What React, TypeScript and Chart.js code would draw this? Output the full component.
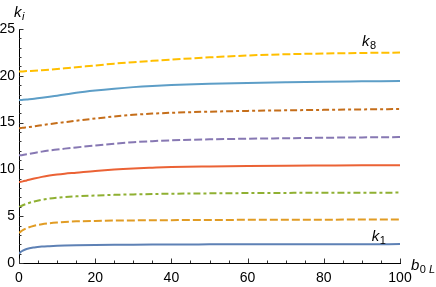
import { useEffect, useRef } from "react";
import { Chart, registerables } from "chart.js";

Chart.register(...registerables);

const xValues = [0, 0.5, 1, 2, 4, 6, 8, 10, 12, 15, 20, 25, 30, 35, 40, 50, 60, 70, 80, 90, 100];
const k1 = [1.0, 1.2, 1.33, 1.5, 1.66, 1.75, 1.8, 1.84, 1.87, 1.9, 1.93, 1.95, 1.96, 1.97, 1.98, 1.99, 2.0, 2.0, 2.01, 2.01, 2.02];
const k2 = [3.2, 3.38, 3.52, 3.72, 3.98, 4.14, 4.25, 4.33, 4.39, 4.45, 4.5, 4.53, 4.55, 4.57, 4.58, 4.6, 4.61, 4.62, 4.63, 4.64, 4.65];
const k3 = [5.95, 6.07, 6.17, 6.33, 6.58, 6.76, 6.88, 6.97, 7.04, 7.12, 7.21, 7.28, 7.33, 7.37, 7.4, 7.44, 7.47, 7.49, 7.5, 7.51, 7.52];
const k4 = [8.65, 8.68, 8.72, 8.82, 9.02, 9.2, 9.34, 9.45, 9.54, 9.65, 9.84, 9.99, 10.1, 10.18, 10.25, 10.32, 10.37, 10.4, 10.42, 10.44, 10.45];
const k5 = [11.5, 11.52, 11.55, 11.62, 11.76, 11.9, 12.02, 12.12, 12.22, 12.35, 12.55, 12.74, 12.9, 13.02, 13.1, 13.21, 13.28, 13.33, 13.38, 13.42, 13.45];
const k6 = [14.4, 14.42, 14.45, 14.5, 14.6, 14.72, 14.84, 14.95, 15.05, 15.2, 15.44, 15.65, 15.83, 15.96, 16.05, 16.17, 16.25, 16.31, 16.36, 16.41, 16.45];
const k7 = [17.4, 17.41, 17.43, 17.47, 17.55, 17.65, 17.76, 17.88, 18.0, 18.18, 18.42, 18.62, 18.79, 18.92, 19.02, 19.15, 19.24, 19.31, 19.37, 19.41, 19.45];
const k8 = [20.45, 20.46, 20.47, 20.5, 20.54, 20.59, 20.65, 20.72, 20.8, 20.92, 21.1, 21.3, 21.46, 21.6, 21.73, 21.97, 22.17, 22.3, 22.38, 22.44, 22.48];

const seriesNames = ["k1", "k2", "k3", "k4", "k5", "k6", "k7", "k8"];
const seriesValues = [k1, k2, k3, k4, k5, k6, k7, k8];
const seriesColors = ["#5E81B5", "#E19C24", "#8FB032", "#EB6235", "#8778B3", "#C56E1A", "#5D9EC7", "#FFBF00"];
const DASH = [8, 3];
const DASHDOT = [7, 3, 3, 3];
const seriesDashes = [[], DASH, DASHDOT, [], DASH, DASHDOT, [], DASH];

const xMin = 0, xMax = 100, xMajor = 20, xMinor = 5;
const yMin = 0, yMax = 25, yMajor = 5, yMinor = 1;

const FONT = "'Liberation Sans', Arial, sans-serif";

function drawSub(ctx: CanvasRenderingContext2D, x: number, y: number, main: string, sub: string, subItalic: boolean, extraItalic?: string) {
  ctx.font = `italic 15px ${FONT}`;
  ctx.textBaseline = "alphabetic";
  ctx.textAlign = "left";
  ctx.fillText(main, x, y);
  const w = ctx.measureText(main).width;
  ctx.font = `${subItalic ? "italic " : ""}11px ${FONT}`;
  ctx.fillText(sub, x + w + 0.5, y + 3);
  if (extraItalic) {
    const w2 = ctx.measureText(sub).width;
    ctx.font = `italic 11px ${FONT}`;
    ctx.fillText(extraItalic, x + w + 0.5 + w2 + 3, y + 3);
  }
}

const decorPlugin = {
  id: "mmaDecor",
  afterDraw(chart: any) {
    const { ctx, chartArea, scales } = chart;
    const xs = scales.x, ys = scales.y;
    ctx.save();
    ctx.strokeStyle = "#333";
    ctx.lineWidth = 1;
    const bottom = chartArea.bottom;
    const left = chartArea.left;
    for (let v = xMin; v <= xMax + 1e-9; v += xMinor) {
      const px = Math.round(xs.getPixelForValue(v)) + 0.5;
      const len = v % xMajor === 0 ? 4.5 : 2.5;
      ctx.beginPath();
      ctx.moveTo(px, bottom);
      ctx.lineTo(px, bottom - len);
      ctx.stroke();
    }
    for (let v = yMin; v <= yMax + 1e-9; v += yMinor) {
      const py = Math.round(ys.getPixelForValue(v)) + 0.5;
      const len = v % yMajor === 0 ? 4.5 : 2.5;
      ctx.beginPath();
      ctx.moveTo(left, py);
      ctx.lineTo(left + len, py);
      ctx.stroke();
    }
    ctx.fillStyle = "#000";
    drawSub(ctx, left - 5, chartArea.top - 12, "k", "i", true);
    drawSub(ctx, chartArea.right + 11, bottom + 7, "b", "0", false, "L");
    drawSub(ctx, xs.getPixelForValue(90), ys.getPixelForValue(23.2), "k", "8", false);
    drawSub(ctx, xs.getPixelForValue(92.6), ys.getPixelForValue(2.35), "k", "1", false);
    ctx.restore();
  },
};

export default function App() {
  const canvasRef = useRef<HTMLCanvasElement | null>(null);

  useEffect(() => {
    const canvas = canvasRef.current;
    if (!canvas) return;
    const datasets = seriesNames.map((name, i) => ({
      label: name,
      data: xValues.map((x, j) => ({ x, y: seriesValues[i][j] })),
      borderColor: seriesColors[i],
      backgroundColor: seriesColors[i],
      borderWidth: 2,
      borderDash: seriesDashes[i],
      pointRadius: 0,
      fill: false,
      cubicInterpolationMode: "monotone" as const,
    }));
    const chart = new Chart(canvas, {
      type: "line",
      data: { datasets },
      options: {
        animation: false,
        responsive: false,
        devicePixelRatio: 1,
        layout: { padding: { left: 0, top: 29, right: 36, bottom: 0 } },
        plugins: { legend: { display: false }, tooltip: { enabled: false } },
        scales: {
          x: {
            type: "linear",
            min: xMin,
            max: xMax,
            grid: { display: false, drawTicks: false },
            border: { display: true, color: "#000", width: 1 },
            ticks: {
              stepSize: xMajor,
              color: "#000",
              font: { family: FONT, size: 14 },
              padding: 7,
              maxRotation: 0,
            },
            afterFit: (s: any) => { s.height = 24; },
          },
          y: {
            type: "linear",
            min: yMin,
            max: yMax,
            grid: { display: false, drawTicks: false },
            border: { display: true, color: "#000", width: 1 },
            ticks: {
              stepSize: yMajor,
              color: "#000",
              font: { family: FONT, size: 14 },
              padding: 4,
            },
            afterFit: (s: any) => { s.width = 19; },
          },
        },
      },
      plugins: [decorPlugin],
    });
    return () => chart.destroy();
  }, []);

  return (
    <div style={{ position: "fixed", left: 0, top: 0, width: 436, height: 287, background: "#fff" }}>
      <canvas ref={canvasRef} width={436} height={287} style={{ width: 436, height: 287, display: "block" }} />
    </div>
  );
}
